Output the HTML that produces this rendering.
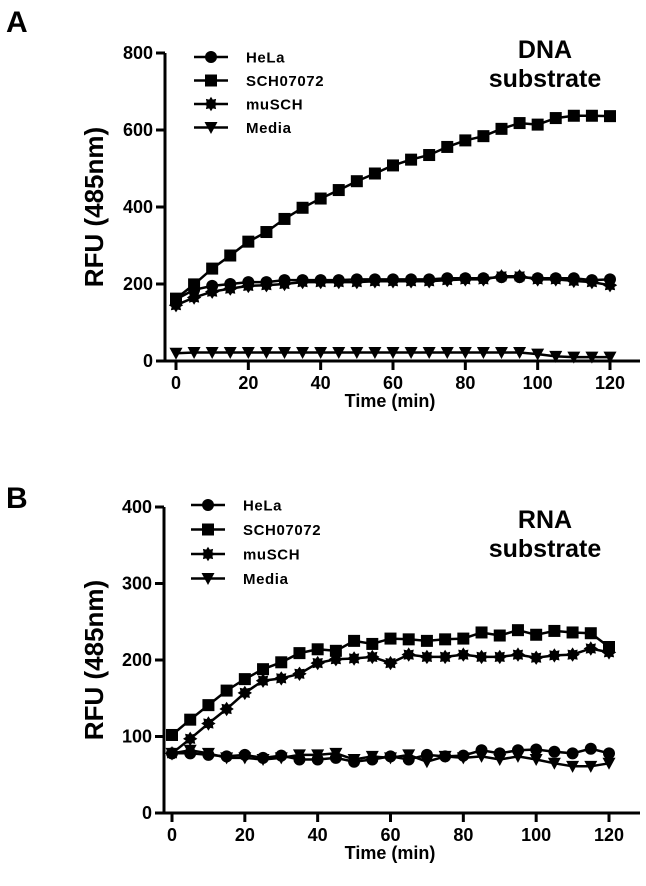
<!DOCTYPE html>
<html><head><meta charset="utf-8"><style>
body{margin:0;background:#fff;}
svg text{font-family:"Liberation Sans",Arial,sans-serif;font-weight:bold;fill:#000;}
</style></head><body>
<svg id="fig" width="646" height="881" viewBox="0 0 646 881" xmlns="http://www.w3.org/2000/svg">
<text x="6" y="32" font-size="30">A</text>
<text x="6" y="508" font-size="30">B</text>
</svg>
<script>
const times = [0,5,10,15,20,25,30,35,40,45,50,55,60,65,70,75,80,85,90,95,100,105,110,115,120];
const seriesNames = ["HeLa","SCH07072","muSCH","Media"];
const xTicks = [0,20,40,60,80,100,120];
const yTicksA = [0,200,400,600,800];
const yTicksB = [0,100,200,300,400];
const helaA = [160,185,195,200,205,205,210,210,210,210,212,212,212,212,212,215,215,215,218,218,215,215,215,210,212];
const schA = [162,199,240,274,310,335,369,398,422,444,467,487,508,523,535,556,573,584,603,618,614,631,637,637,636];
const muschA = [145,165,180,188,195,197,200,205,205,205,205,207,207,207,207,210,212,212,220,220,212,212,208,205,197];
const mediaA = [20,22,22,22,22,22,22,22,22,22,22,22,22,22,22,22,22,22,22,22,18,12,10,10,10];
const helaB = [78,78,76,74,76,72,75,70,70,72,67,70,74,70,76,74,75,82,78,82,83,80,78,84,78];
const schB = [102,122,141,160,175,188,197,209,214,212,225,221,228,227,225,227,228,236,232,239,233,238,236,235,217];
const muschB = [78,97,117,136,157,173,176,182,196,201,202,204,196,207,204,204,207,204,204,207,203,206,207,215,210];
const mediaB = [78,82,78,72,72,70,72,76,76,78,70,74,72,76,67,74,72,74,70,74,70,65,61,61,65];

const NS="http://www.w3.org/2000/svg";
const svg=document.getElementById('fig');
function mk(tag,attrs,parent){const e=document.createElementNS(NS,tag);for(const k in attrs)e.setAttribute(k,attrs[k]);(parent||svg).appendChild(e);return e;}

function marker(g,type,cx,cy){
  let e;
  if(type===0){e=mk('circle',{cx:cx,cy:cy,r:6,fill:'#000'},g);}
  else if(type===1){e=mk('rect',{x:cx-6,y:cy-6,width:12,height:12,fill:'#000'},g);}
  else if(type===2){
    let pts=[];for(let i=0;i<16;i++){const r=i%2?4.8:7.2;const a=i*Math.PI/8;pts.push((cx+r*Math.cos(a)).toFixed(1)+','+(cy+r*Math.sin(a)).toFixed(1));}
    e=mk('polygon',{points:pts.join(' '),fill:'#000'},g);
  } else {e=mk('polygon',{points:`${cx-6.5},${cy-5.5} ${cx+6.5},${cy-5.5} ${cx},${cy+6.5}`,fill:'#000'},g);}
  return e;
}

function panel(cfg){
  const g=mk('g',{});
  
  
  const xs=v=>cfg.x0+(v-0)*(cfg.x1-cfg.x0)/120;
  const ys=v=>cfg.y0-(v)*(cfg.y0-cfg.yTop)/cfg.ymax;
  const ya=mk('line',{x1:cfg.ax,y1:cfg.yTop,x2:cfg.ax,y2:cfg.y0+1,stroke:'#000','stroke-width':3},g);
  
  
  const xa=mk('line',{x1:cfg.ax-1,y1:cfg.y0,x2:cfg.xEnd,y2:cfg.y0,stroke:'#000','stroke-width':3},g);
  
  
  cfg.yTicks.forEach(t=>{
    const y=ys(t);
    mk('line',{x1:cfg.ax-9,y1:y,x2:cfg.ax,y2:y,stroke:'#000','stroke-width':3},g);
    const tx=mk('text',{x:cfg.ax-12,y:y+6,'font-size':18,'text-anchor':'end'},g);
    tx.textContent=t;
    
    
  });
  xTicks.forEach(t=>{
    const x=xs(t);
    mk('line',{x1:x,y1:cfg.y0,x2:x,y2:cfg.y0+9,stroke:'#000','stroke-width':3},g);
    const tx=mk('text',{x:x,y:cfg.y0+28,'font-size':18,'text-anchor':'middle'},g);
    tx.textContent=t;
    
    
  });
  const xt=mk('text',{x:390,y:cfg.y0+46,'font-size':18,'text-anchor':'middle'},g);
  xt.textContent='Time (min)';
  
  
  const ycy=(cfg.y0+cfg.yTop)/2;
  const yt=mk('text',{x:103,y:ycy,'font-size':26,'text-anchor':'middle',transform:`rotate(-90 103 ${ycy})`},g);
  yt.textContent='RFU (485nm)';
  
  
  cfg.data.forEach((arr,si)=>{
    const sg=mk('g',{},g);
    
    
    const d=arr.map((v,i)=>(i?'L':'M')+xs(times[i]).toFixed(1)+','+ys(v).toFixed(1)).join(' ');
    mk('path',{d:d,fill:'none',stroke:'#000','stroke-width':2.5},sg);
    arr.forEach((v,i)=>{
      const m=marker(sg,si,xs(times[i]),ys(v));
      
      
    });
  });
  seriesNames.forEach((n,i)=>{
    const lg=mk('g',{},g);
    
    
    const y=cfg.legY+i*cfg.legDy;
    mk('line',{x1:cfg.legX,y1:y,x2:cfg.legX+34,y2:y,stroke:'#000','stroke-width':2.5},lg);
    marker(lg,i,cfg.legX+17,y);
    const t=mk('text',{x:cfg.legX+52,y:y+5.5,'font-size':15,'letter-spacing':'0.6'},lg);
    t.textContent=n;
  });
  const tt=mk('text',{x:545,y:cfg.titleY,'font-size':25,'text-anchor':'middle'},g);
  tt.textContent=cfg.title1;
  
  
  const tt2=mk('text',{x:545,y:cfg.titleY+29,'font-size':25,'text-anchor':'middle'},g);
  tt2.textContent='substrate';
  
  
}
panel({name:'panel-a-chart',ax:165,x0:176,x1:610,xEnd:640,yTop:53,y0:361,ymax:800,yTicks:yTicksA,
  data:[helaA,schA,muschA,mediaA],legX:194,legY:57,legDy:23.5,title1:'DNA',titleY:58});
panel({name:'panel-b-chart',ax:164,x0:172,x1:609,xEnd:640,yTop:507,y0:813,ymax:400,yTicks:yTicksB,
  data:[helaB,schB,muschB,mediaB],legX:191,legY:505,legDy:24.5,title1:'RNA',titleY:528});
</script>
</body></html>
